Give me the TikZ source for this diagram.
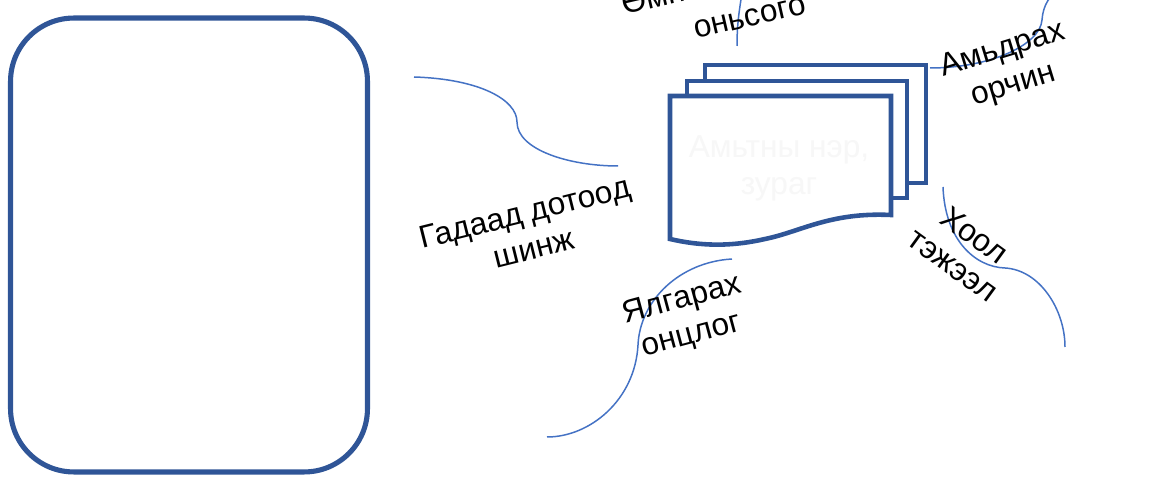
\documentclass[tikz,border=0pt]{standalone}
\usepackage{fontspec}
\setmainfont{Liberation Sans}
\usepackage{xcolor}
\usetikzlibrary{positioning, calc}
\definecolor{frameblue}{HTML}{2F5597}
\definecolor{arcblue}{HTML}{4472C4}

\begin{document}
\begin{tikzpicture}[x=0.02cm, y=-0.02cm]
    \tikzstyle{lbl} = [align=center, font=\fontsize{18}{21}\selectfont, inner sep=0pt]
    \tikzstyle{sheet} = [draw=frameblue, line width=2.6pt, fill=white]
    \tikzstyle{arc} = [draw=arcblue, line width=0.85pt]

    \useasboundingbox (0,0) rectangle (1167,479);

    % big card on the left
    \node[draw=frameblue, line width=2.9pt, rounded corners=36pt, outer sep=0pt,
          minimum width=7.14cm, minimum height=9.08cm] (card) at (189,245) {};

    % document stack
    \draw[sheet] (705,65) rectangle (926,183);
    \draw[sheet] (687,81) rectangle (907,198);
    \draw[sheet] (670,96) -- (891,96) -- (891,215)
        .. controls (830,212) and (800,232) .. (765,239)
        .. controls (730,247) and (700,246) .. (670,239) -- cycle;
    \node[lbl, text=black!3] (doc) at (779,168) {Амьтны нэр,\\зураг};

    % arcs
    \coordinate (lftA) at (414,77);
    \coordinate (lftB) at (618,166);
    \coordinate (topA) at (737,46);
    \coordinate (topB) at (746,-30);
    \coordinate (rtA) at (930,68);
    \coordinate (rtB) at (1062,-12);
    \coordinate (lowA) at (943,187);
    \coordinate (lowB) at (1065,347);
    \coordinate (btmA) at (732,259);
    \coordinate (btmB) at (547,437);
    \draw[arc] (lftA) .. controls (480,79) and (517,100) .. (517,122)
        .. controls (517,150) and (570,166) .. (lftB);
    \draw[arc] (topA) .. controls (737,20) and (740,5) .. (topB);
    \draw[arc] (rtA) .. controls (990,68) and (1040,45) .. (1042,20)
        .. controls (1043,5) and (1050,-6) .. (rtB);
    \draw[arc] (lowA) .. controls (945,240) and (975,267) .. (1005,268)
        .. controls (1040,270) and (1065,310) .. (lowB);
    \draw[arc] (btmA) .. controls (680,262) and (640,300) .. (638,345)
        .. controls (635,400) and (590,437) .. (btmB);

    % labels
    \node[lbl, rotate=14] (shinj) at (529,230) {Гадаад дотоод\\шинж};
    \node[lbl, rotate=15] (ontslog) at (687,318) {Ялгарах\\онцлог};
    \node[lbl, rotate=17] (orchin) at (1008,68) {Амьдрах\\орчин};
    \node[lbl, rotate=-36] (hool) at (964,250) {Хоол\\тэжээл};
    \node[lbl, rotate=13, anchor=base west] (omnoh) at (624,15) {Өмнөх};
    \node[lbl, rotate=13] (onsogo) at (750,18) {оньсого};
\end{tikzpicture}
\end{document}
